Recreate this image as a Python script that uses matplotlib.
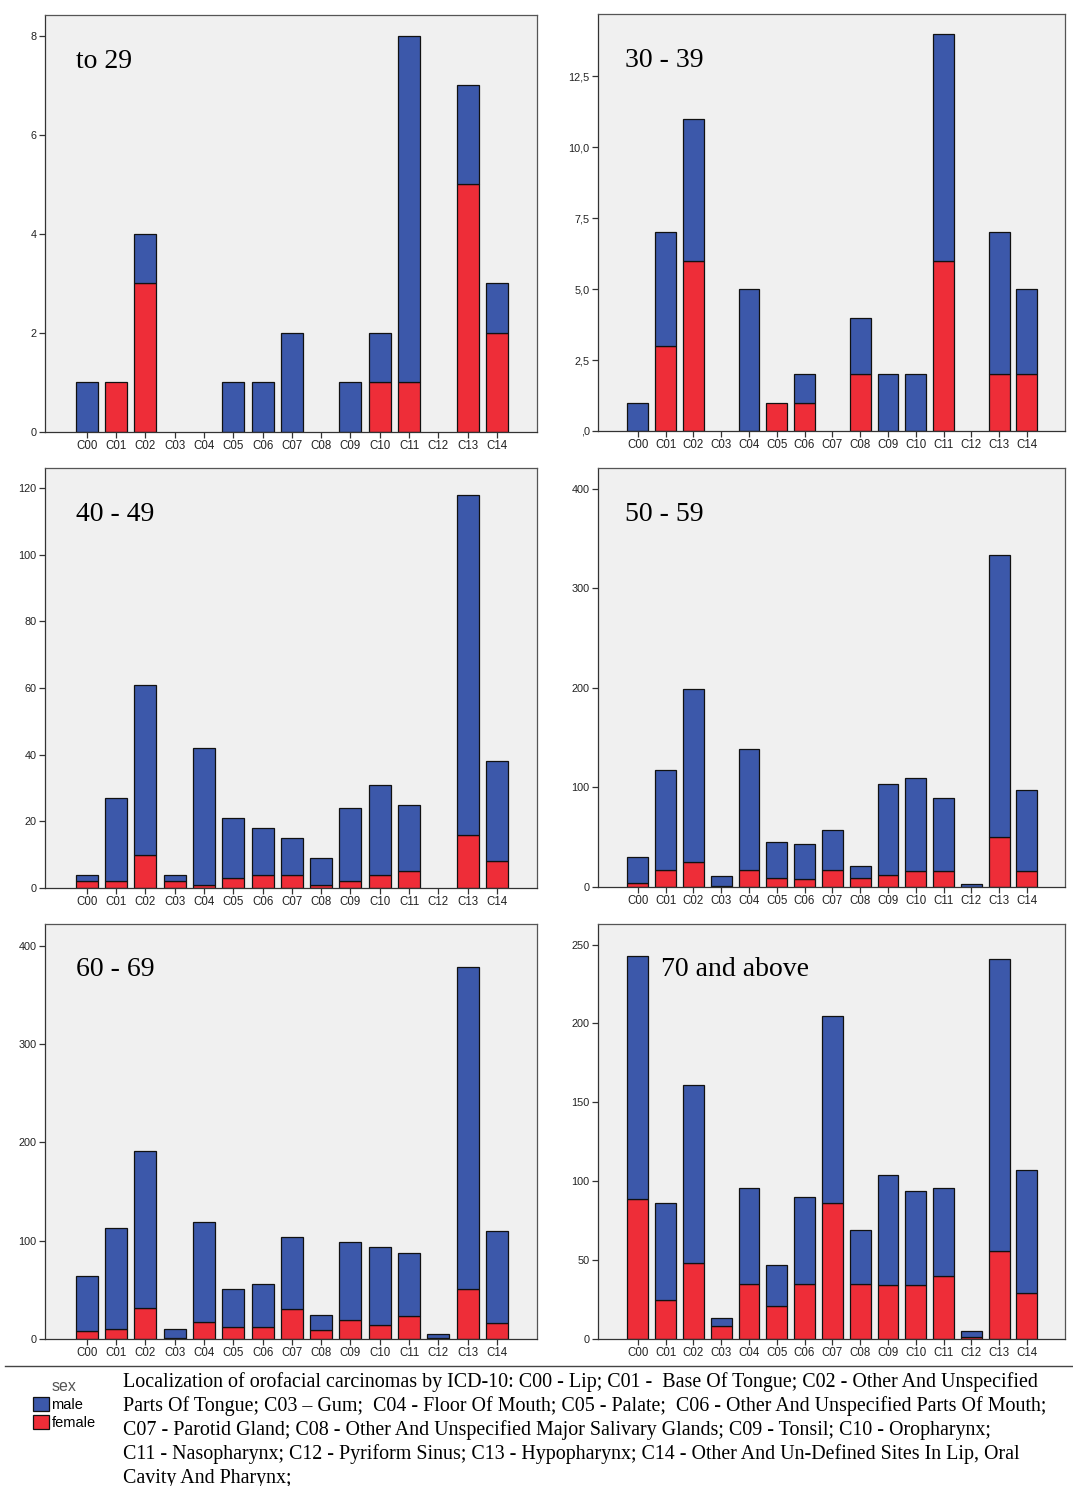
import numpy as np
import matplotlib.pyplot as plt
from matplotlib.lines import Line2D

W, H = 1073, 1486

sites = ['C00', 'C01', 'C02', 'C03', 'C04', 'C05', 'C06', 'C07',
         'C08', 'C09', 'C10', 'C11', 'C12', 'C13', 'C14']

age_groups = ['to 29', '30 - 39', '40 - 49', '50 - 59', '60 - 69', '70 and above']

female_to29 = [0, 1, 3, 0, 0, 0, 0, 0, 0, 0, 1, 1, 0, 5, 2]
male_to29 = [1, 0, 1, 0, 0, 1, 1, 2, 0, 1, 1, 7, 0, 2, 1]

female_30_39 = [0, 3, 6, 0, 0, 1, 1, 0, 2, 0, 0, 6, 0, 2, 2]
male_30_39 = [1, 4, 5, 0, 5, 0, 1, 0, 2, 2, 2, 8, 0, 5, 3]

female_40_49 = [2, 2, 10, 2, 1, 3, 4, 4, 1, 2, 4, 5, 0, 16, 8]
male_40_49 = [2, 25, 51, 2, 41, 18, 14, 11, 8, 22, 27, 20, 0, 102, 30]

female_50_59 = [4, 17, 25, 1, 17, 9, 8, 17, 9, 12, 16, 16, 0, 50, 16]
male_50_59 = [26, 101, 174, 10, 122, 36, 35, 40, 12, 91, 94, 73, 3, 284, 81]

female_60_69 = [8, 10, 32, 1, 17, 12, 12, 31, 9, 19, 14, 23, 1, 51, 16]
male_60_69 = [56, 103, 159, 9, 102, 39, 44, 73, 15, 80, 80, 64, 4, 327, 94]

female_70 = [89, 25, 48, 8, 35, 21, 35, 86, 35, 34, 34, 40, 1, 56, 29]
male_70 = [154, 61, 113, 5, 61, 26, 55, 119, 34, 70, 60, 56, 4, 185, 78]

females = [female_to29, female_30_39, female_40_49, female_50_59, female_60_69, female_70]
males = [male_to29, male_30_39, male_40_49, male_50_59, male_60_69, male_70]

yticks = [[0, 2, 4, 6, 8],
          [0, 2.5, 5, 7.5, 10, 12.5],
          [0, 20, 40, 60, 80, 100, 120],
          [0, 100, 200, 300, 400],
          [0, 100, 200, 300, 400],
          [0, 50, 100, 150, 200, 250]]
ytick_labels = [['0', '2', '4', '6', '8'],
                [',0', '2,5', '5,0', '7,5', '10,0', '12,5'],
                ['0', '20', '40', '60', '80', '100', '120'],
                ['0', '100', '200', '300', '400'],
                ['0', '100', '200', '300', '400'],
                ['0', '50', '100', '150', '200', '250']]
ytops = [8.42, 14.7, 126, 421, 422, 263]

caption = ['Localization of orofacial carcinomas by ICD-10: C00 - Lip; C01 -  Base Of Tongue; C02 - Other And Unspecified',
           'Parts Of Tongue; C03 \u2013 Gum;  C04 - Floor Of Mouth; C05 - Palate;  C06 - Other And Unspecified Parts Of Mouth;',
           'C07 - Parotid Gland; C08 - Other And Unspecified Major Salivary Glands; C09 - Tonsil; C10 - Oropharynx;',
           'C11 - Nasopharynx; C12 - Pyriform Sinus; C13 - Hypopharynx; C14 - Other And Un-Defined Sites In Lip, Oral',
           'Cavity And Pharynx;']

blue = '#3C58AA'
red = '#EE2D38'

# panel boxes in pixels: left, right, top, bottom
boxes = [(45, 537, 15, 432), (598, 1065, 14, 431),
         (45, 537, 468, 888), (598, 1065, 468, 887),
         (45, 537, 924, 1339), (598, 1065, 924, 1339)]
label_x = [0.063, 0.058, 0.063, 0.058, 0.063, 0.135]

plt.rcParams['font.family'] = ['Liberation Sans', 'DejaVu Sans']
fig = plt.figure(figsize=(W / 100, H / 100), dpi=100)

x = np.arange(len(sites))
for g in range(6):
    l, r, t, b = boxes[g]
    ax = fig.add_axes([l / W, 1 - b / H, (r - l) / W, (b - t) / H])
    ax.set_facecolor('#F0F0F0')
    f = np.array(females[g])
    m = np.array(males[g])
    # no outline for empty segments
    pf = ax.bar(x, f, 0.75, color=red, edgecolor='#111111',
                linewidth=[0.9 if v > 0 else 0 for v in f], label='female')
    pm = ax.bar(x, m, 0.75, bottom=f, color=blue, edgecolor='#111111',
                linewidth=[0.9 if v > 0 else 0 for v in m], label='male')
    ax.set_xlim(-1.43, 15.37)
    ax.set_ylim(0, ytops[g])
    ax.set_xticks(x)
    ax.set_xticklabels(sites, fontsize=8.3)
    ax.set_yticks(yticks[g])
    ax.set_yticklabels(ytick_labels[g], fontsize=7.8)
    ax.tick_params(length=4, width=0.9, color='#333333', labelcolor='#222222', pad=2)
    for s in ax.spines.values():
        s.set_color('#555555')
        s.set_linewidth(0.9)
    ax.spines['bottom'].set_color('#333333')
    ax.spines['left'].set_color('#333333')
    ax.text(label_x[g], 0.874, age_groups[g], transform=ax.transAxes,
            family='Liberation Serif', fontsize=20, va='baseline', ha='left')

# separator line under the panels
fig.add_artist(Line2D([5 / W, 1], [1 - 1366 / H, 1 - 1366 / H], color='#444444', lw=1))

leg = fig.legend([pm, pf], ['male', 'female'], title='sex', loc='upper left',
                 bbox_to_anchor=(26 / W, 1 - 1372 / H), frameon=False, fontsize=10.5,
                 title_fontsize=11.5, handlelength=1.1, handleheight=1.1,
                 handletextpad=0.15, labelspacing=0.2, borderpad=0)
leg.get_title().set_color('#555555')

for i, line in enumerate(caption):
    fig.text(123 / W, 1 - (1387 + 24 * i) / H, line, family='Liberation Serif',
             fontsize=14.4, va='baseline', ha='left')

fig.savefig('out.png', dpi=100)
